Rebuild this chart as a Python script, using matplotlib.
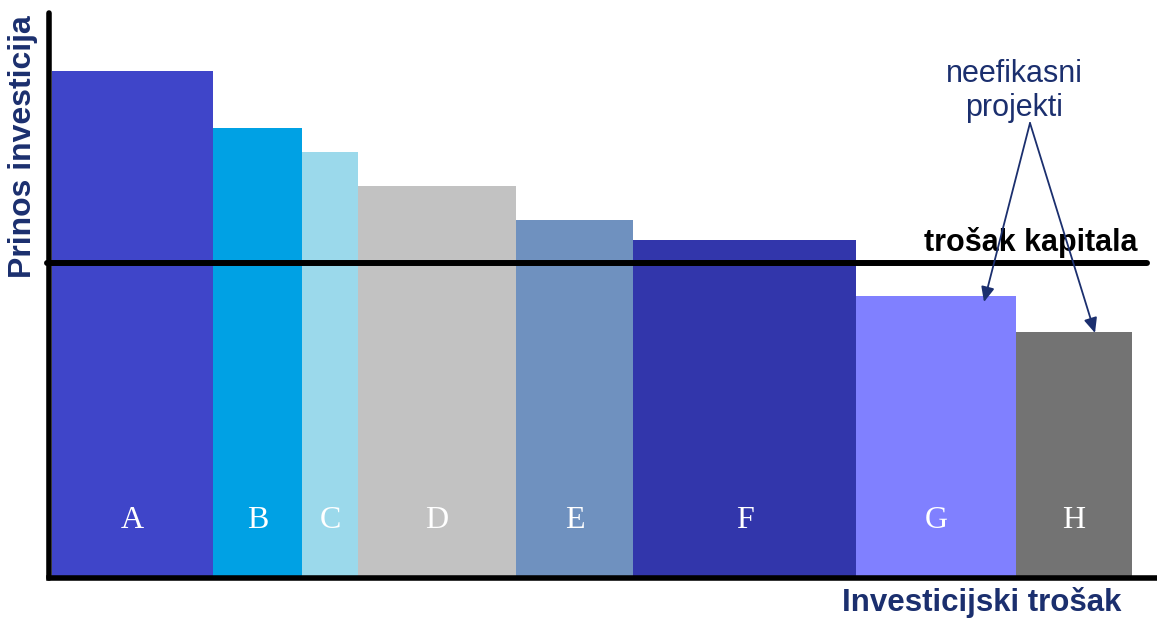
import matplotlib
matplotlib.use("Agg")
import matplotlib.pyplot as plt

# Data (widths = investment cost, heights = return)
projects = ["A", "B", "C", "D", "E", "F", "G", "H"]
widths = [161, 89, 56, 158, 117, 223, 160, 116]
returns = [507, 450, 426, 392, 358, 338, 282, 246]
colors = ["#3f45c9", "#00a1e4", "#9bd9eb", "#c2c2c2", "#6f91bf", "#3236ab", "#8080ff", "#737373"]
capital_cost = 315
start_offset = 3

W, H = 1157, 618
fig = plt.figure(figsize=(W / 100, H / 100), dpi=100)
ax_left, ax_bottom, ax_top, ax_right = 49, 578, 13, 1157
ax = fig.add_axes([ax_left / W, 1 - ax_bottom / H, (ax_right - ax_left) / W, (ax_bottom - ax_top) / H])
ax.set_xlim(0, ax_right - ax_left)
ax.set_ylim(0, ax_bottom - ax_top)

lefts = []
x = start_offset
for w in widths:
    lefts.append(x)
    x += w

ax.bar(lefts, returns, width=widths, align="edge", color=colors, edgecolor="none", zorder=2)

for l, w, p in zip(lefts, widths, projects):
    ax.text(l + w / 2, 58, p, color="white", ha="center", va="center",
            fontsize=23, family="Liberation Serif", zorder=4)

# capital cost line
ax.plot([-2, 1098], [capital_cost, capital_cost], color="black", lw=4.3,
        solid_capstyle="round", zorder=3, clip_on=False)
ax.text(1089, capital_cost + 21, "trošak kapitala", ha="right", va="center",
        fontsize=22, fontweight="bold", family="Liberation Sans", color="black", zorder=4)

# spines
for s in ["top", "right"]:
    ax.spines[s].set_visible(False)
ax.spines["left"].set_linewidth(4)
ax.spines["bottom"].set_linewidth(4)
ax.spines["left"].set_capstyle("round")
ax.spines["left"].set_zorder(5)
ax.spines["bottom"].set_zorder(5)
ax.set_xticks([])
ax.set_yticks([])

navy = "#1b2f6e"
# annotation
ax.text(965, 504, "neefikasni", ha="center", va="center", fontsize=22,
        family="Liberation Sans", color=navy)
ax.text(965, 470, "projekti", ha="center", va="center", fontsize=22,
        family="Liberation Sans", color=navy)
src = (981, 455)
for tgt in [(935, 276), (1046, 245)]:
    ax.annotate("", xy=tgt, xytext=src,
                arrowprops=dict(arrowstyle="-|>,head_length=0.9,head_width=0.4",
                                color=navy, lw=1.3, shrinkA=0, shrinkB=0), zorder=6)

# axis labels
fig.text(23 / W, 1 - 147 / H, "Prinos investicija", rotation=90, ha="center", va="center",
         fontsize=23, fontweight="bold", family="Liberation Sans", color=navy)
fig.text(982 / W, 1 - 602 / H, "Investicijski trošak", ha="center", va="center",
         fontsize=22.5, fontweight="bold", family="Liberation Sans", color=navy)

fig.savefig("out.png", dpi=100)
